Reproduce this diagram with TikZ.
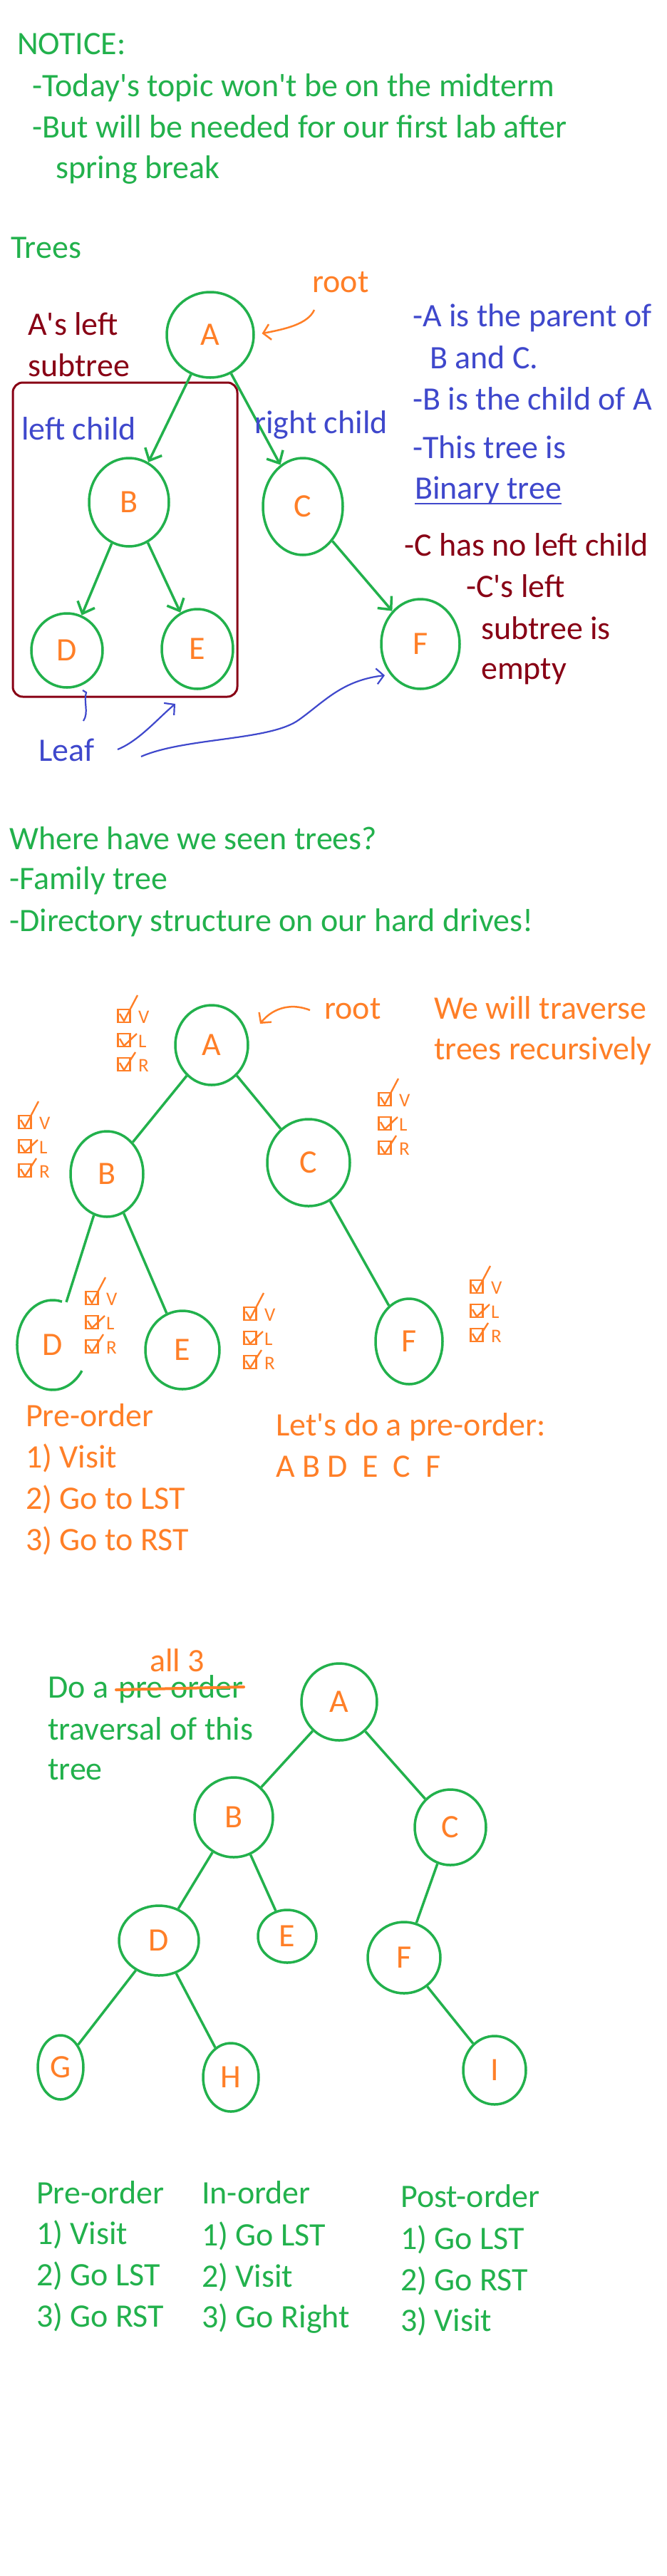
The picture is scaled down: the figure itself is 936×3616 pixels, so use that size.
\documentclass[tikz,border=0pt]{standalone}
\usepackage{fontspec}
\setmainfont{Carlito}
\usetikzlibrary{arrows.meta,shapes.geometric,calc}

\definecolor{pgreen}{HTML}{22B14C}
\definecolor{porange}{HTML}{FF7F27}
\definecolor{pblue}{HTML}{3F48CC}
\definecolor{pred}{HTML}{880015}

\newcommand\notefont{\fontsize{46}{54}\selectfont}
\newcommand\tickfont{\fontsize{27}{30}\selectfont}

\tikzset{
  vlr/.pic={
    \foreach \r/\l in {0/V,1/L,2/R}{
      \draw[porange,line width=2.4pt] (-8.5,-34*\r-9) rectangle (8.5,-34*\r+9);
      \node[anchor=west,inner sep=0pt,text=porange,font=\tickfont] at (20,-34*\r-2) {\l};
    }
    \draw[porange,line width=2.4pt,line join=round] (-6,3) -- (0,-7) -- (19,29);
    \draw[porange,line width=2.4pt,line join=round] (-6,-32) -- (0,-42) -- (18,-25);
    \draw[porange,line width=2.4pt,line join=round] (-6,-66) -- (0,-76) -- (16,-51);
  }
}

\begin{document}
\begin{tikzpicture}
  [x=1pt,y=1pt,
   txt/.style={anchor=base west,inner sep=0pt,font=\notefont},
   tnode/.style={ellipse,draw=pgreen,line width=3.5pt,inner sep=0pt,text=porange,font=\notefont},
   tline/.style={draw=pgreen,line width=3.5pt},
   tarrow/.style={tline,-{Straight Barb[length=14pt,width=26pt]}},
   leafpen/.style={draw=pblue,line width=2.2pt,-{Straight Barb[length=10pt,width=22pt]}},
   rootpen/.style={draw=porange,line width=2.5pt,-{Straight Barb[length=10pt,width=22pt]}}]

  \path[use as bounding box,fill=white] (0,0) rectangle (936,-3616);

  % notice
  \node[txt,text=pgreen] (notice) at (24,-77) {NOTICE:};
  \node[txt,text=pgreen] (note1) at (45,-135) {-Today\textquotesingle s topic won\textquotesingle t be on the midterm};
  \node[txt,text=pgreen] (note2) at (45,-193) {-But will be needed for our first lab after};
  \node[txt,text=pgreen] (note3) at (78,-250) {spring break};

  % first tree
  \node[txt,text=pgreen] (trees) at (15,-362) {Trees};
  \draw[pred,line width=3pt,rounded corners=14pt] (18,-537) rectangle (333,-978);
  \node[tnode,minimum width=122pt,minimum height=120pt] (a1) at (295,-470) {A};
  \node[tnode,minimum width=112pt,minimum height=124pt] (b1) at (181,-705) {B};
  \node[tnode,minimum width=112pt,minimum height=136pt] (c1) at (425,-711) {C};
  \node[tnode,minimum width=100pt,minimum height=104pt] (d1) at (94,-913)  {D};
  \node[tnode,minimum width=100pt,minimum height=112pt] (e1) at (277,-911) {E};
  \node[tnode,minimum width=110pt,minimum height=126pt] (f1) at (590,-904) {F};
  \foreach \from/\to in {a1/b1,a1/c1,b1/d1,b1/e1,c1/f1}
    \draw[tarrow] (\from) -- (\to);

  \node[txt,text=porange] (root1) at (438,-410) {root};
  \coordinate (rt1) at (441,-435);
  \draw[rootpen,shorten >=10pt] (rt1) .. controls (432,-455) and (400,-462) .. (a1.east);

  \node[txt,text=pred] (aleft) at (39,-470) {A\textquotesingle s left};
  \node[txt,text=pred] (asub) at (39,-528) {subtree};
  \node[txt,text=pblue] (lchild) at (30,-617) {left child};
  \node[txt,text=pblue] (rchild) at (357,-608) {right child};

  \node[txt,text=pblue] (par1) at (579,-458) {-A is the parent of};
  \node[txt,text=pblue] (par2) at (603,-517) {B and C.};
  \node[txt,text=pblue] (chl) at (579,-575) {-B is the child of A};
  \node[txt,text=pblue] (this) at (579,-643) {-This tree is};
  \node[txt,text=pblue] (binary) at (582,-700) {Binary tree};
  \draw[pblue,line width=2.5pt] ([yshift=-7pt]binary.base west) -- ([yshift=-7pt]binary.base east);

  \node[txt,text=pred] (noleft) at (567,-780) {-C has no left child};
  \node[txt,text=pred] (cleft) at (654,-838) {-C\textquotesingle s left};
  \node[txt,text=pred] (csub) at (675,-897) {subtree is};
  \node[txt,text=pred] (cempty) at (675,-953) {empty};

  \node[txt,text=pblue] (leaf) at (54,-1068) {Leaf};
  \coordinate (lf1) at (117,-1012);
  \coordinate (lf2) at (165,-1052);
  \coordinate (lf3) at (198,-1062);
  \coordinate (dleaf) at (121,-972);
  \coordinate (eleaf) at (246,-988);
  \coordinate (fleaf) at (540,-948);
  \draw[leafpen,-] (lf1) .. controls (125,-1000) and (117,-985) .. (dleaf) -- ++(-5,3);
  \draw[leafpen] (lf2) .. controls (195,-1040) and (222,-1008) .. (eleaf);
  \draw[leafpen] (lf3) .. controls (260,-1035) and (380,-1040) .. (420,-1010)
    .. controls (455,-985) and (480,-955) .. (fleaf);

  % where have we seen trees
  \node[txt,text=pgreen] (where) at (13,-1192) {Where have we seen trees?};
  \node[txt,text=pgreen] (family) at (13,-1248) {-Family tree};
  \node[txt,text=pgreen] (dir) at (13,-1307) {-Directory structure on our hard drives!};

  % second tree
  \node[tnode,minimum width=102pt,minimum height=112pt] (a2) at (297,-1467) {A};
  \node[tnode,minimum width=102pt,minimum height=120pt] (b2) at (150,-1648) {B};
  \node[tnode,minimum width=116pt,minimum height=122pt] (c2) at (433,-1632) {C};
  \node[tnode,draw=none,minimum width=100pt,minimum height=126pt] (d2) at (74,-1888) {D};
  \node[tnode,minimum width=104pt,minimum height=110pt] (e2) at (256,-1895) {E};
  \node[tnode,minimum width=94pt,minimum height=120pt] (f2) at (574,-1883) {F};
  \draw[tline] ([shift={(75:50 and 63)}]d2.center) arc[start angle=75,end angle=325,x radius=50,y radius=63];
  \foreach \from/\to in {a2/b2,a2/c2,b2/d2,b2/e2,c2/f2}
    \draw[tline] (\from) -- (\to);
  \foreach \p in {(174,-1426),(35,-1575),(540,-1543),(129,-1822),(351,-1844),(669,-1806)}
    \pic at \p {vlr};

  \node[txt,text=porange] (root2) at (455,-1430) {root};
  \coordinate (rt2) at (435,-1418);
  \draw[rootpen] (rt2) .. controls (405,-1406) and (380,-1418) .. (365,-1437);
  \node[txt,text=porange] (trav1) at (609,-1430) {We will traverse};
  \node[txt,text=porange] (trav2) at (609,-1487) {trees recursively};

  \node[txt,text=porange] (pre1) at (36,-2002) {Pre-order};
  \node[txt,text=porange] (pre1a) at (36,-2060) {1) Visit};
  \node[txt,text=porange] (pre1b) at (36,-2118) {2) Go to LST};
  \node[txt,text=porange] (pre1c) at (36,-2176) {3) Go to RST};
  \node[txt,text=porange] (lets) at (387,-2015) {Let\textquotesingle s do a pre-order:};
  \node[txt,text=porange] (seq) at (387,-2073) {A B D\ \ E\ \ C\ \ F};

  % third tree
  \node[txt,text=porange] (all3) at (210,-2346) {all 3};
  \node[txt,text=pgreen] (doa) at (67,-2383) {Do a};
  \node[txt,text=pgreen] (preord) at (166,-2383) {pre order};
  \draw[porange,line width=4pt,line cap=round] ([shift={(-3,11)}]preord.base west) -- ([shift={(0,15)}]preord.base east);
  \node[txt,text=pgreen] (travthis) at (67,-2442) {traversal of this};
  \node[txt,text=pgreen] (tree) at (67,-2498) {tree};

  \node[tnode,minimum width=106pt,minimum height=108pt] (a3) at (476,-2389) {A};
  \node[tnode,minimum width=110pt,minimum height=112pt] (b3) at (328,-2551) {B};
  \node[tnode,minimum width=100pt,minimum height=106pt] (c3) at (632,-2565) {C};
  \node[tnode,minimum width=112pt,minimum height=98pt]  (d3) at (223,-2724) {D};
  \node[tnode,minimum width=82pt,minimum height=74pt]   (e3) at (403,-2718) {E};
  \node[tnode,minimum width=102pt,minimum height=100pt] (f3) at (567,-2748) {F};
  \node[tnode,minimum width=64pt,minimum height=90pt]   (g3) at (85,-2902)  {G};
  \node[tnode,minimum width=78pt,minimum height=96pt]   (h3) at (324,-2916) {H};
  \node[tnode,minimum width=88pt,minimum height=96pt]   (i3) at (694,-2906) {I};
  \foreach \from/\to in {a3/b3,a3/c3,b3/d3,b3/e3,c3/f3,d3/g3,d3/h3,f3/i3}
    \draw[tline] (\from) -- (\to);

  % the three orders
  \node[txt,text=pgreen] (pre2) at (51,-3093) {Pre-order};
  \node[txt,text=pgreen] (pre2a) at (51,-3150) {1) Visit};
  \node[txt,text=pgreen] (pre2b) at (51,-3208) {2) Go LST};
  \node[txt,text=pgreen] (pre2c) at (51,-3266) {3) Go RST};
  \node[txt,text=pgreen] (in2) at (283,-3093) {In-order};
  \node[txt,text=pgreen] (in2a) at (283,-3152) {1) Go LST};
  \node[txt,text=pgreen] (in2b) at (283,-3210) {2) Visit};
  \node[txt,text=pgreen] (in2c) at (283,-3267) {3) Go Right};
  \node[txt,text=pgreen] (post2) at (562,-3098) {Post-order};
  \node[txt,text=pgreen] (post2a) at (562,-3157) {1) Go LST};
  \node[txt,text=pgreen] (post2b) at (562,-3215) {2) Go RST};
  \node[txt,text=pgreen] (post2c) at (562,-3272) {3) Visit};
\end{tikzpicture}
\end{document}
